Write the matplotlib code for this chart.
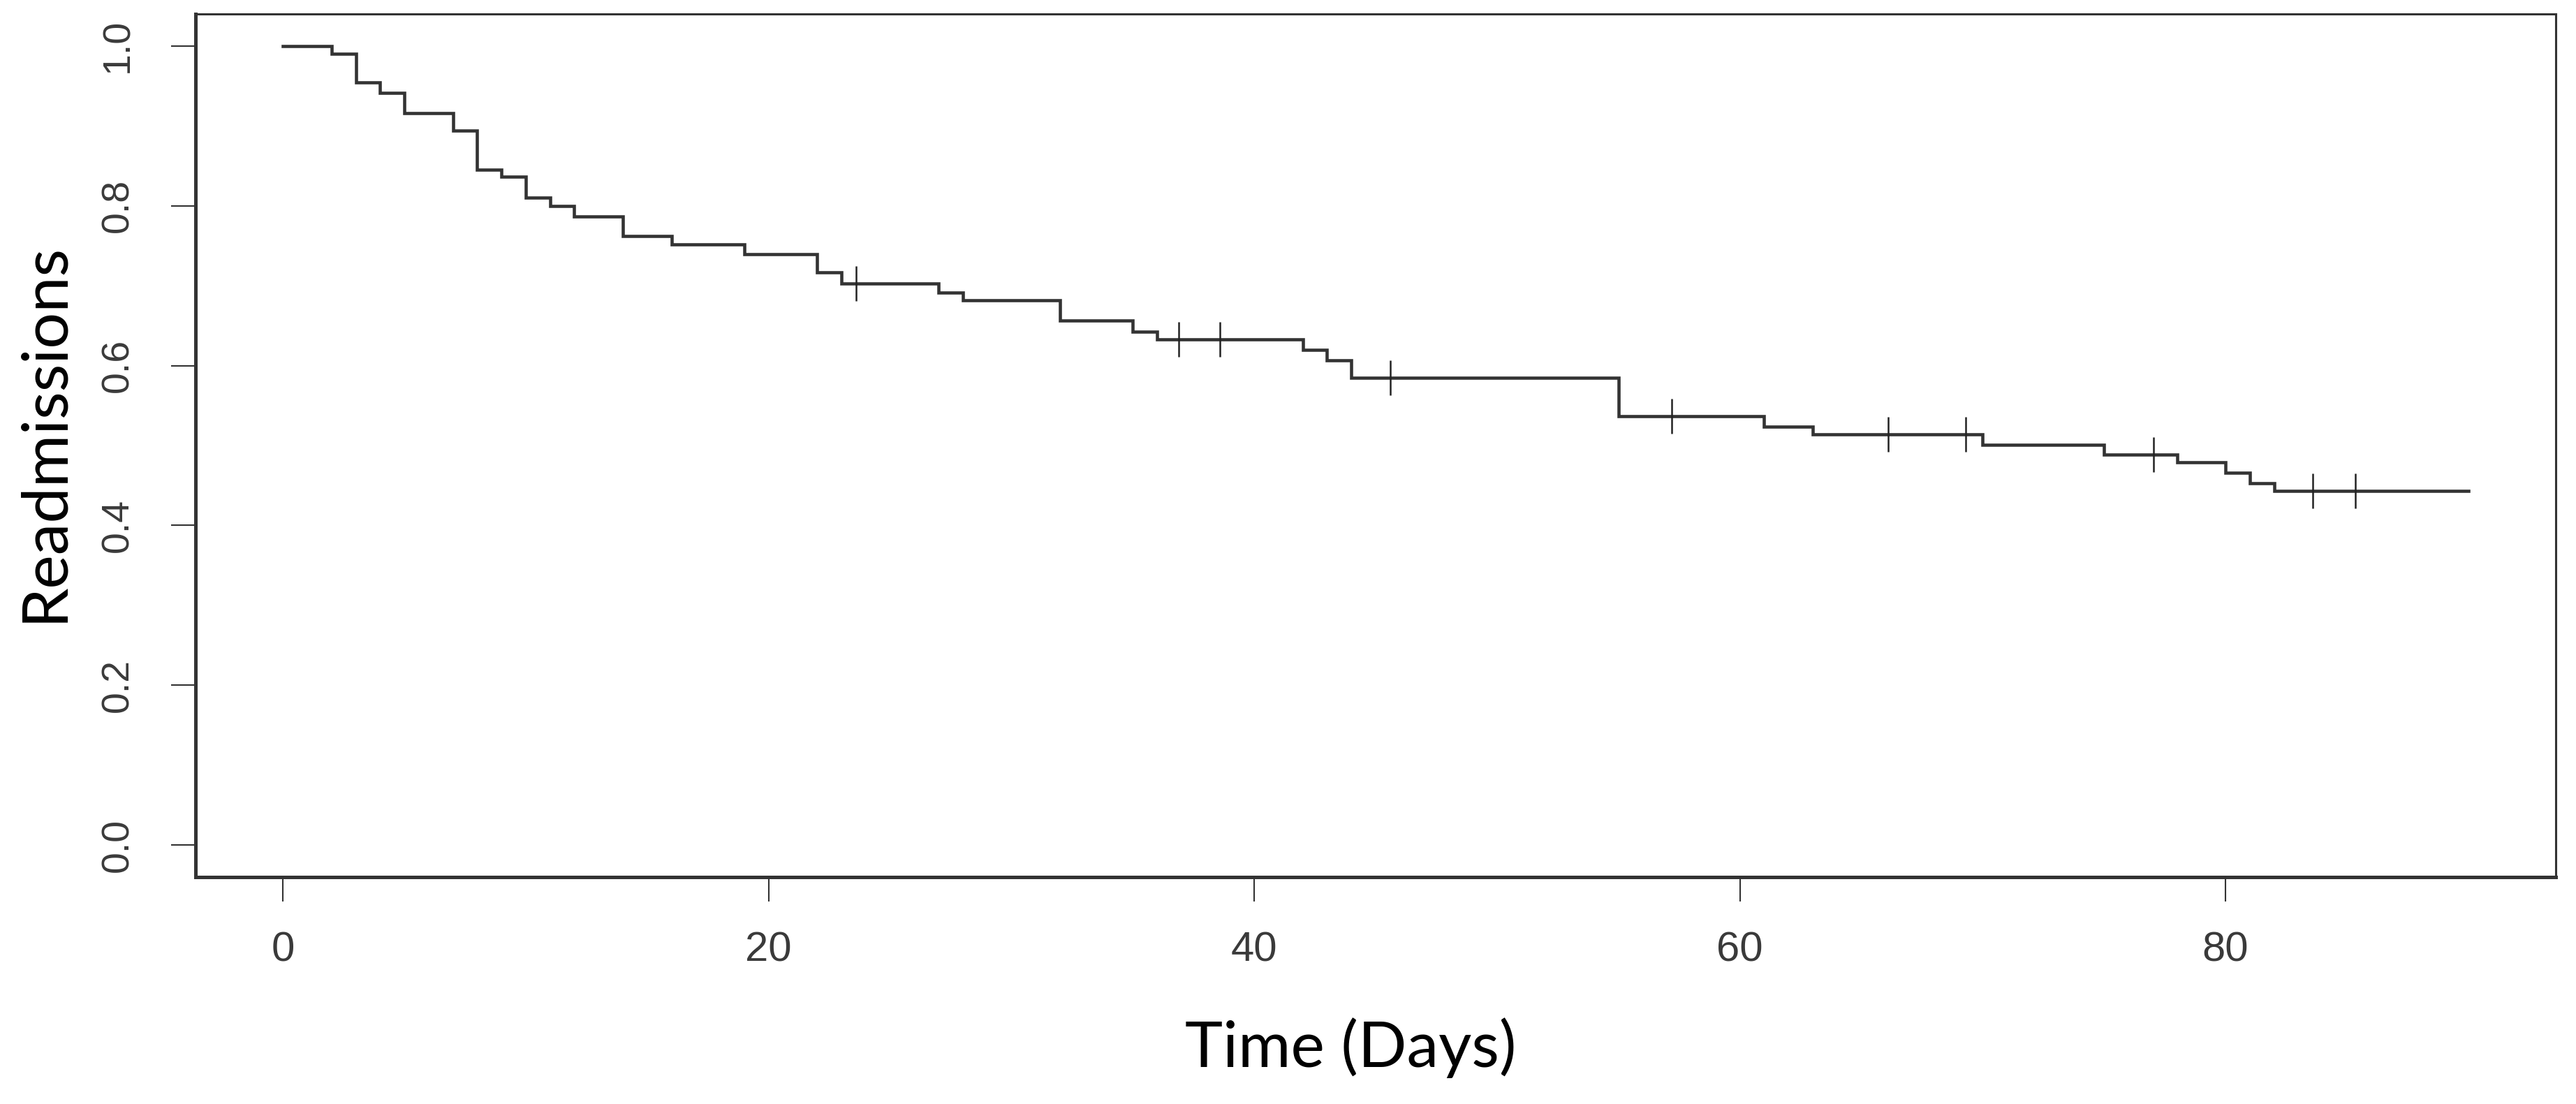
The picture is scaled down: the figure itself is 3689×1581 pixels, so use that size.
import numpy as np
import matplotlib
matplotlib.use("Agg")
import matplotlib.pyplot as plt

# Kaplan-Meier style step curve
times = [0, 2, 3, 4, 5, 7, 8, 9, 10, 11, 12, 14, 16, 19, 22, 23, 27, 28, 32, 35, 36,
         42, 43, 44, 55, 61, 63, 70, 75, 78, 80, 81, 82, 90]
surv = [1.000, 0.990, 0.954, 0.941, 0.916, 0.894, 0.845, 0.836, 0.810, 0.800, 0.787,
        0.762, 0.752, 0.739, 0.717, 0.703, 0.691, 0.682, 0.656, 0.642, 0.633, 0.620,
        0.607, 0.585, 0.537, 0.524, 0.514, 0.501, 0.489, 0.479, 0.466, 0.453, 0.443, 0.443]
censor_times = [23.6, 36.9, 38.6, 45.6, 57.2, 66.1, 69.3, 77.05, 83.6, 85.35]

x_ticks = [0, 20, 40, 60, 80]
y_ticks = [0.0, 0.2, 0.4, 0.6, 0.8, 1.0]
y_tick_labels = ["0.0", "0.2", "0.4", "0.6", "0.8", "1.0"]
x_label = "Time (Days)"
y_label = "Readmissions"

W, H = 3689, 1581
fig = plt.figure(figsize=(W / 100, H / 100), dpi=100)
L, R, T, B = 280, 3660, 20, 1256
ax = fig.add_axes([L / W, 1 - B / H, (R - L) / W, (B - T) / H])

line_col = "#333333"
ax.step(times, surv, where="post", color=line_col, lw=3.3, solid_joinstyle="miter")

t_arr = np.array(times)
s_arr = np.array(surv)
idx = np.searchsorted(t_arr, censor_times, side="right") - 1
ax.plot(censor_times, s_arr[idx], linestyle="none", marker="|", markersize=36,
        markeredgewidth=1.8, color="#222222")

ax.set_xlim(-3.6, 93.6)
ax.set_ylim(-0.04, 1.04)
ax.set_xticks(x_ticks)
ax.set_xticklabels([str(v) for v in x_ticks])
ax.set_yticks(y_ticks)
ax.set_yticklabels(y_tick_labels)

tick_col = "#3a3a3a"
ax.tick_params(axis="both", direction="out", length=25, width=1.5, color="#333333",
               labelcolor=tick_col)
ax.tick_params(axis="x", labelsize=43, pad=31)
ax.tick_params(axis="y", labelsize=40, pad=36)
for lab in ax.get_yticklabels():
    lab.set_rotation(90)
    lab.set_va("center")
    lab.set_ha("right")
for lab in ax.get_xticklabels() + ax.get_yticklabels():
    lab.set_fontfamily(["Liberation Sans", "DejaVu Sans"])

for side in ["left", "bottom"]:
    ax.spines[side].set_linewidth(3.6)
    ax.spines[side].set_color("#333333")
for side in ["top", "right"]:
    ax.spines[side].set_linewidth(2.2)
    ax.spines[side].set_color("#333333")

fig.text(1934 / W, 1 - 1501 / H, x_label, ha="center", va="center", fontsize=66,
         family=["Lato", "DejaVu Sans"], color="black")
fig.text(64 / W, 1 - 619 / H, y_label, ha="center", va="center", fontsize=66,
         rotation=90, family=["Lato", "DejaVu Sans"], color="black")

fig.savefig("out.png", dpi=100, facecolor="white")
